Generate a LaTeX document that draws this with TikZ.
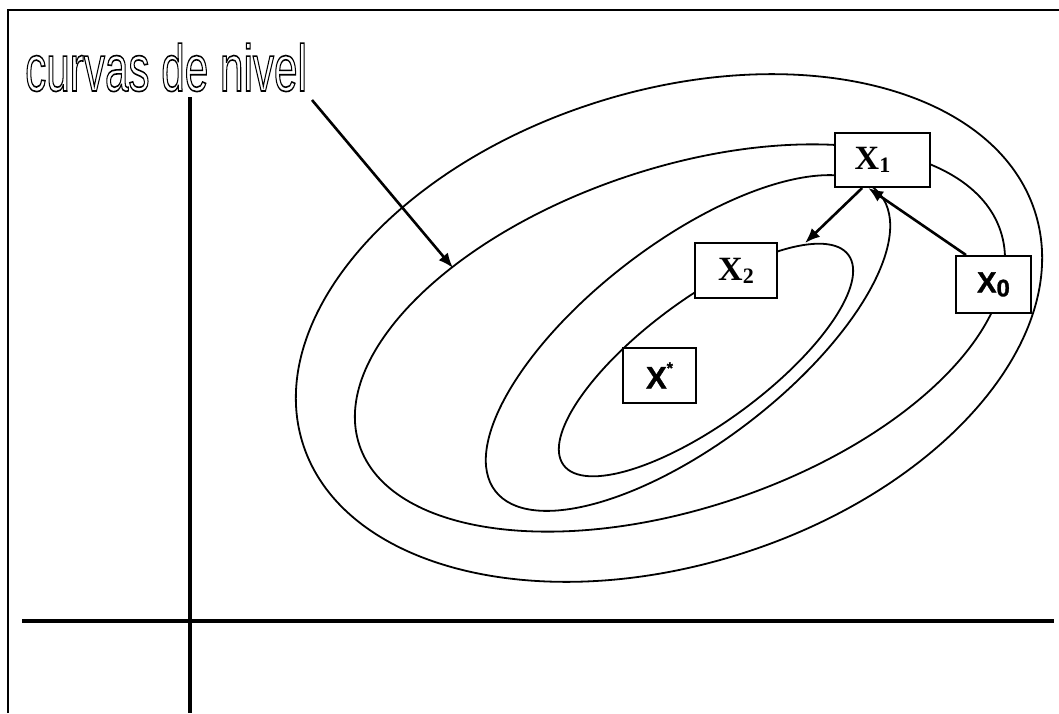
\documentclass[tikz,border=0pt]{standalone}
\usepackage{fontspec}
\usepackage{graphicx}
\setmainfont{Liberation Serif}
\newfontfamily\arialf{Liberation Sans}
\newfontfamily\arialb{Liberation Sans Bold}[FakeBold=1.2]
\newfontfamily\timesb{Liberation Serif Bold}
\usetikzlibrary{arrows.meta,calc}
\begin{document}
\begin{tikzpicture}[x=1pt,y=-1pt,
  contour/.style={line width=1.8pt},
  boxst/.style={draw,line width=2pt,fill=white,inner sep=0pt,anchor=center},
  arr/.style={line width=2.6pt,-{Latex[length=15pt,width=12pt]}},
  axis/.style={line width=3.5pt}]
\useasboundingbox (0,0) rectangle (1059,713);
% frame
\draw[line width=2.5pt] (8,713) -- (8,10) -- (1059,10);
% axes
\coordinate (ytop) at (190,97);
\coordinate (ybot) at (190,713);
\coordinate (xl) at (22,621);
\coordinate (xr) at (1054,621);
\draw[axis] (ytop) -- (ybot);
\draw[axis] (xl) -- (xr);
% contours
\coordinate (c4) at (669,328);
\coordinate (c3) at (680,338);
\coordinate (c2) at (688,343);
\coordinate (c1) at (706,360);
\draw[contour,rotate around={17.5:(c4)}] (c4) ellipse [x radius=384, y radius=237];
\draw[contour,rotate around={18.5:(c3)}] (c3) ellipse [x radius=338, y radius=170];
\draw[contour,rotate around={37.5:(c2)}] (c2) ellipse [x radius=243, y radius=100];
\draw[contour,rotate around={36.4:(c1)}] (c1) ellipse [x radius=177, y radius=62];
% boxes
\node[boxst,minimum width=95pt,minimum height=54pt] (X1) at (882.5,160) {};
\node (X1t) at ($(X1.center)+(-10,0)$) {\timesb\fontsize{34}{34}\selectfont X\raisebox{-3pt}{\fontsize{22}{22}\selectfont 1}};
\node[boxst,minimum width=82pt,minimum height=55pt] (X2) at (736,270.5) {\timesb\fontsize{34}{34}\selectfont X\raisebox{-3pt}{\fontsize{22}{22}\selectfont 2}};
\node[boxst,minimum width=75pt,minimum height=57pt] (X0) at (993.5,284.5) {\arialb\fontsize{29}{29}\selectfont X\raisebox{-4pt}{\fontsize{24}{24}\selectfont 0}};
\node[boxst,minimum width=73pt,minimum height=55pt] (Xs) at (659.5,375.5) {\arialb\fontsize{31}{31}\selectfont X\raisebox{15pt}{\fontsize{16}{16}\selectfont *}};
% arrows between iterates
\coordinate (t2) at (805,243);
\draw[arr] (X1.234) -- (t2);
\draw[arr] (X0.133) -- (X1.243);
% label
\node[anchor=base west,inner sep=0pt] (lbl) at (25,91) {\arialf\fontsize{66}{66}\selectfont\scalebox{0.64}[1]{\special{pdf:literal direct 1 Tr 1.6 w}curvas de nivel\special{pdf:literal direct 0 Tr}}};
\coordinate (a0) at (312,100);
\coordinate (a1) at (453,268);
\draw[arr] (a0) -- (a1);
\end{tikzpicture}
\end{document}
